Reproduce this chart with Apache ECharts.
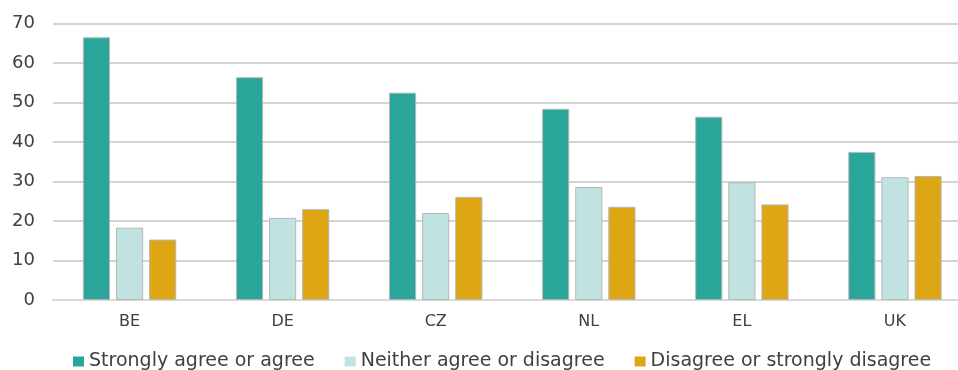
<!DOCTYPE html>
<html>
<head>
<meta charset="utf-8">
<script src="https://cdn.jsdelivr.net/npm/echarts@6/dist/echarts.min.js"></script>
<style>
  html, body { margin: 0; padding: 0; background: #fff; }
  #chart { width: 958px; height: 370px; }
</style>
</head>
<body>
<div id="chart"></div>
<script>
// Countries on the category axis
const countries = ['BE', 'DE', 'CZ', 'NL', 'EL', 'UK'];

// Share of respondents (%) per answer group
const agreeValues = [66.5, 56.4, 52.5, 48.4, 46.4, 37.5];
const neitherValues = [18.3, 20.8, 22.0, 28.6, 29.8, 31.1];
const disagreeValues = [15.3, 23.0, 26.1, 23.6, 24.2, 31.4];

const seriesNames = [
  'Strongly agree or agree',
  'Neither agree or disagree',
  'Disagree or strongly disagree'
];

// Value axis ticks
const yMin = 0;
const yMax = 70;
const yStep = 10;

const colors = ['#2aa59a', '#c0e3e1', '#dea614'];
const fontFamily = '"DejaVu Sans", Verdana, sans-serif';

const chart = echarts.init(document.getElementById('chart'), null, { renderer: 'canvas' });

const values = [agreeValues, neitherValues, disagreeValues];

chart.setOption({
  animation: false,
  color: colors,
  // plot area runs past the right edge of the canvas
  grid: {
    left: 53, right: -13.5, top: 23.5, bottom: 70,
    containLabel: false,
    outerBoundsMode: 'none'
  },
  legend: {
    top: 352,
    left: 73,
    icon: 'rect',
    itemWidth: 11,
    itemHeight: 10,
    itemGap: 30,
    padding: 0,
    itemStyle: { borderWidth: 0 },
    textStyle: { fontFamily: fontFamily, fontSize: 19, color: '#404040' },
    data: seriesNames
  },
  xAxis: {
    type: 'category',
    data: countries,
    axisLine: { show: true, lineStyle: { color: '#d9d9d9', width: 2 } },
    axisTick: { show: false },
    axisLabel: { fontFamily: fontFamily, fontSize: 16, color: '#404040', margin: 14 }
  },
  yAxis: {
    type: 'value',
    min: yMin,
    max: yMax,
    interval: yStep,
    axisLine: { show: false },
    axisTick: { show: false },
    axisLabel: { fontFamily: fontFamily, fontSize: 18, color: '#404040', margin: 18 },
    splitLine: { lineStyle: { color: '#c4c4c4', width: 1.5 } }
  },
  series: seriesNames.map((name, i) => ({
    name: name,
    type: 'bar',
    data: values[i],
    barGap: '22%',
    barCategoryGap: '39%',
    itemStyle: { color: colors[i], borderColor: '#b4b8b8', borderWidth: 1 }
  }))
});
</script>
</body>
</html>
